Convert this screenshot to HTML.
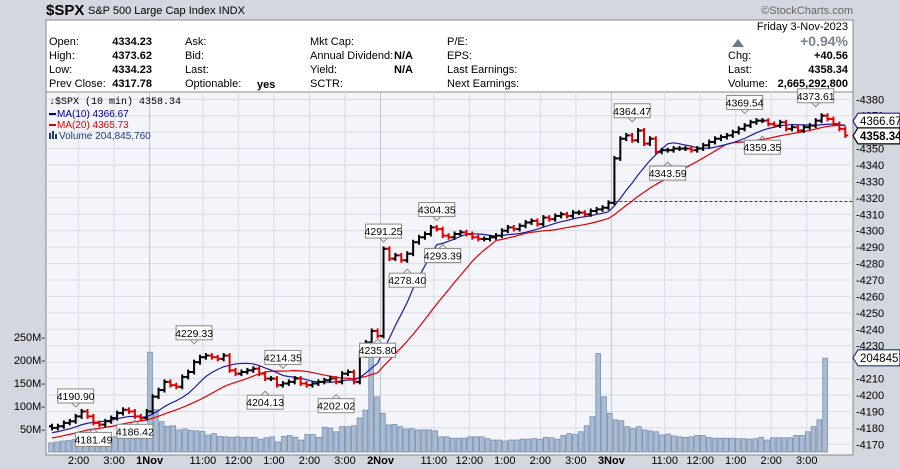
<!DOCTYPE html>
<html><head><meta charset="utf-8">
<style>
html,body{margin:0;padding:0;}
body{width:900px;height:469px;background:#d3d7df;font-family:"Liberation Sans",sans-serif;overflow:hidden;position:relative;}
svg{position:absolute;left:0;top:0;}
</style></head>
<body>
<svg id="chart" width="900" height="469" xmlns="http://www.w3.org/2000/svg">
  <rect x="0" y="0" width="900" height="469" fill="#d3d7df"/>
  <text x="46" y="15" font-size="15" font-weight="bold" fill="#000">$SPX</text>
  <text x="88" y="14" font-size="11" fill="#000">S&amp;P 500 Large Cap Index  INDX</text>
  <text x="853" y="14" font-size="11" fill="#666" text-anchor="end">©StockCharts.com</text>
  <rect x="46" y="20" width="807" height="72" fill="#fff" stroke="#888"/>
  <g font-size="11" fill="#000">
    <text x="49" y="45">Open:</text><text x="152" y="45" text-anchor="end" font-weight="bold">4334.23</text>
    <text x="49" y="59">High:</text><text x="152" y="59" text-anchor="end" font-weight="bold">4373.62</text>
    <text x="49" y="73">Low:</text><text x="152" y="73" text-anchor="end" font-weight="bold">4334.23</text>
    <text x="49" y="87">Prev Close:</text><text x="152" y="87" text-anchor="end" font-weight="bold">4317.78</text>
    <text x="185" y="45">Ask:</text><text x="185" y="59">Bid:</text><text x="185" y="73">Last:</text>
    <text x="185" y="87">Optionable:</text><text x="257" y="88" font-weight="bold">yes</text>
    <text x="310" y="45">Mkt Cap:</text><text x="310" y="59">Annual Dividend:</text>
    <text x="413" y="59" text-anchor="end" font-weight="bold">N/A</text>
    <text x="310" y="73">Yield:</text><text x="413" y="73" text-anchor="end" font-weight="bold">N/A</text>
    <text x="310" y="87">SCTR:</text>
    <text x="447" y="45">P/E:</text><text x="447" y="59">EPS:</text>
    <text x="447" y="73">Last Earnings:</text><text x="447" y="87">Next Earnings:</text>
    <text x="848" y="30" text-anchor="end">Friday  3-Nov-2023</text>
    <text x="848" y="46" text-anchor="end" font-size="14" font-weight="bold" fill="#7a8290">+0.94%</text>
    <polygon points="732,47 738,39 744,47" fill="#6a7888"/>
    <text x="728" y="59">Chg:</text><text x="848" y="59" text-anchor="end" font-weight="bold">+40.56</text>
    <text x="728" y="73">Last:</text><text x="848" y="73" text-anchor="end" font-weight="bold">4358.34</text>
    <text x="728" y="87">Volume:</text><text x="848" y="87" text-anchor="end" font-weight="bold">2,665,292,800</text>
  </g>
  <rect x="46" y="92" width="807" height="363" fill="#f4f5fa" stroke="#888"/>
  <g id="grid"></g>
  <g id="vol"></g>
  <g id="lines"></g>
  <g id="bars"></g>
  <g id="annots"></g>
  <g id="axes"></g>
  <g font-size="10">
    <text x="49" y="104" font-family="Liberation Mono,monospace" font-size="10" fill="#000">↓$SPX (10 min) 4358.34</text>
    <rect x="49" y="113" width="7" height="2" fill="#00008b"/><text x="57" y="117" fill="#00008b">MA(10) 4366.67</text>
    <rect x="49" y="124" width="7" height="2" fill="#e00000"/><text x="57" y="128" fill="#e00000">MA(20) 4365.73</text>
    <rect x="49" y="133" width="2" height="6" fill="#1a3a78"/><rect x="52" y="131" width="2" height="8" fill="#1a3a78"/><rect x="55" y="134" width="2" height="5" fill="#1a3a78"/>
    <text x="59" y="139" fill="#1a3a78">Volume 204,845,760</text>
  </g>
</svg>
<script>
const priorCloses = [4168,4167,4169,4170,4171,4170,4172,4173,4172,4174,4175,4174,4176,4175,4177,4178,4177,4179,4180];
const closes = [
4180,4181,4183,4184,4187,4190,4187,4183,4182,4184,4186,4189,4191,4190,4187,4186,4190,
4199,4203,4208,4206,4205,4211,4214,4220,4223,4224,4223,4222,4224,4215,4213,4214,4215,4216,4213,4210,4210,4206,4207,4208,4210,4207,4206,4207,4208,4209,4210,4208,4213,4214,4208,4224,4232,4239,4236,
4289,4283,4285,4282,4286,4293,4296,4298,4302,4301,4297,4296,4298,4299,4298,4296,4295,4295,4296,4297,4300,4302,4301,4303,4305,4306,4304,4308,4307,4309,4310,4309,4311,4311,4310,4312,4313,4314,4317,
4344,4356,4358,4355,4361,4353,4356,4348,4349,4349,4350,4350,4350,4349,4350,4352,4354,4356,4357,4358,4360,4362,4364,4366,4367,4367,4365,4364,4366,4362,4363,4361,4363,4364,4367,4370,4368,4365,4362,4358
];
const firstOpen = 4181;
const volumes = [
20,22,24,25,27,28,28,30,30,32,32,33,35,36,38,40,42,
217,92,66,56,57,48,50,47,46,45,37,40,34,33,32,33,32,32,32,28,31,33,22,34,36,32,26,38,38,32,54,52,44,55,55,57,74,91,
211,120,84,59,60,55,50,51,48,48,48,46,33,33,30,30,30,33,33,33,29,26,26,24,26,26,28,28,29,28,32,31,28,36,40,38,44,57,77,
214,120,84,70,68,55,51,55,48,46,44,37,39,35,33,32,33,36,36,32,30,30,30,30,29,29,28,29,32,26,31,31,31,31,36,36,44,55,70,204
];
const annotIdx = [4,7,14,24,36,39,48,55,56,60,65,66,98,104,117,120,129];
const annotVal = [4190.90,4181.49,4186.42,4229.33,4204.13,4214.35,4202.02,4235.80,4291.25,4278.40,4304.35,4293.39,4364.47,4343.59,4369.54,4359.35,4373.61];
const annotUp = [1,0,0,1,0,1,0,0,1,0,1,0,1,0,1,0,1];
const priceTicks = [4170,4180,4190,4200,4210,4220,4230,4240,4250,4260,4270,4280,4290,4300,4310,4320,4330,4340,4350,4360,4370,4380];
const volTicks = [50,100,150,200,250];
const timeIdx = [5,11,17,26,32,38,44,50,56,65,71,77,83,89,95,104,110,116,122,128];
const timeLabels = ["2:00","3:00","1Nov","11:00","12:00","1:00","2:00","3:00","2Nov","11:00","12:00","1:00","2:00","3:00","3Nov","11:00","12:00","1:00","2:00","3:00"];
const prevClose = 4317.78;

const NS="http://www.w3.org/2000/svg";
const X = i => 52 + i*5.92;
const VX = i => 377 + (i-56)*5.82;
const Y = p => 444.3 - (p-4170)*1.643;
const VY = v => 452 - v*0.46;
function mk(tag, attrs, parent){const e=document.createElementNS(NS,tag);for(const k in attrs)e.setAttribute(k,attrs[k]);parent.appendChild(e);return e;}
const grid=document.getElementById('grid'), vol=document.getElementById('vol'), lines=document.getElementById('lines'), bars=document.getElementById('bars'), annots=document.getElementById('annots'), axes=document.getElementById('axes');

priceTicks.forEach(p=>{
  const l=mk('line',{x1:46,x2:853,y1:Y(p),y2:Y(p),stroke:'#d9dce6','stroke-width':1},grid);
  
  
  const t=mk('text',{x:856,y:Y(p)+4,'font-size':11,fill:'#000'},axes);
  t.textContent='-'+p;
  
  
});
volTicks.forEach(v=>{
  const t=mk('text',{x:45,y:VY(v)+4,'font-size':11,fill:'#000','text-anchor':'end'},axes);
  t.textContent=v+'M-';
  
  
});
timeIdx.forEach((ix,k)=>{
  const day=timeLabels[k].indexOf('Nov')>=0;
  const l=mk('line',{x1:X(ix)-3,x2:X(ix)-3,y1:92,y2:455,stroke:day?'#bfc3cc':'#d9dce6','stroke-width':1},grid);
  
  
  const t=mk('text',{x:X(ix)-3,y:464,'font-size':11,'text-anchor':'middle','font-weight':day?'bold':'normal',fill:'#000'},axes);
  t.textContent=timeLabels[k];
  
  
});
volumes.forEach((v,i)=>{
  const r=mk('rect',{x:VX(i)-2.4,y:VY(v),width:4.8,height:452-VY(v),fill:'#a9bbd3',stroke:'#6f86a6','stroke-width':0.7},vol);
  
  
});
const allC = priorCloses.concat(closes), off = priorCloses.length;
function ma(n){return closes.map((c,i)=>{const e=i+off;const s=Math.max(0,e-n+1);let t=0;for(let j=s;j<=e;j++)t+=allC[j];return t/(e-s+1);});}
[[20,'#e00000'],[10,'#1c1ca0']].forEach(([n,col])=>{
  const m=ma(n);
  const p=mk('polyline',{points:m.map((v,i)=>X(i)+','+Y(v)).join(' '),fill:'none',stroke:col,'stroke-width':1.2},lines);
  
  
});
const dl=mk('line',{x1:X(95),x2:853,y1:Y(prevClose),y2:Y(prevClose),stroke:'#1030e0','stroke-dasharray':'3,2','stroke-width':1},lines);


closes.forEach((c,i)=>{
  const o=i===0?firstOpen:closes[i-1];
  const hi=Math.max(o,c)+1.5, lo=Math.min(o,c)-1.5;
  const col=(i>0&&c<closes[i-1])?'#e00000':'#000';
  const g=mk('g',{stroke:col,'stroke-width':2},bars);
  
  
  const x=X(i);
  mk('line',{x1:x,x2:x,y1:Y(hi),y2:Y(lo)},g);
  mk('line',{x1:x-3,x2:x,y1:Y(o),y2:Y(o)},g);
  mk('line',{x1:x,x2:x+3,y1:Y(c),y2:Y(c)},g);
});
annotIdx.forEach((ix,k)=>{
  const v=annotVal[k], up=annotUp[k], x=X(ix), y=Y(v);
  const g=mk('g',{},annots);
  
  
  const by=up? y-21 : y+7;
  mk('polyline',{points:up?`${x-4},${y-7} ${x},${y-3} ${x+4},${y-7}`:`${x-4},${y+7} ${x},${y+3} ${x+4},${y+7}`,fill:'none',stroke:'#888'},g);
  mk('rect',{x:x-18,y:by,width:36,height:14,fill:'#fff',stroke:'#888'},g);
  const t=mk('text',{x:x,y:by+11,'font-size':10.5,'text-anchor':'middle',fill:'#000'},g);
  t.textContent=v.toFixed(2);
});
function tag(y,txt,col,bold,name){
  const g=mk('g',{},axes);
  
  
  mk('polygon',{points:`853,${y} 858,${y-8} 900,${y-8} 900,${y+8} 858,${y+8}`,fill:'#fff',stroke:col,'stroke-width':1.2},g);
  const t=mk('text',{x:860,y:y+4,'font-size':11.5,'font-weight':bold?'bold':'normal',fill:'#000'},g);
  t.textContent=txt;
}
tag(Y(4366.67),'4366.67','#1c1ca0',false,'ma10-value-tag');
tag(Y(4358.34)+1,'4358.34','#000',true,'last-price-tag');
tag(VY(204.8),'20484570','#1a3a78',false,'volume-value-tag');
</script>
</body></html>
